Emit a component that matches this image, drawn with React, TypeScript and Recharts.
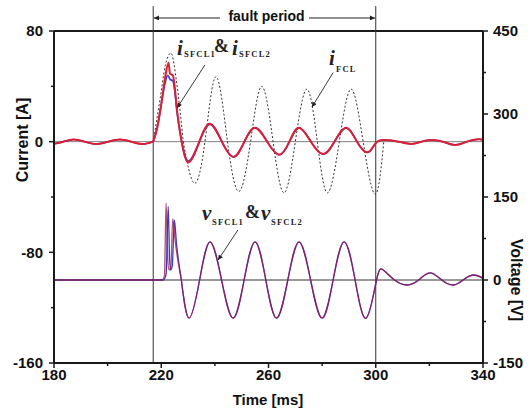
import React from "react";
import { ComposedChart, Line, XAxis, YAxis, ReferenceLine } from "recharts";

// fault window [ms]
const FAULT_START = 217;
const FAULT_END = 300;

const X_TICKS = [180, 200, 220, 240, 260, 280, 300, 320, 340];
const I_TICKS = [-160, -120, -80, -40, 0, 40, 80];
const V_TICKS = [-150, -75, 0, 75, 150, 225, 300, 375, 450];

// i_SFCL1 [A] (red)
const iSfcl1 = [
  { t: 180, v: -1.5 }, { t: 183.5, v: 0 }, { t: 187.3, v: 1.6 }, { t: 191.4, v: 0 },
  { t: 195.8, v: -1.7 }, { t: 200.2, v: 0 }, { t: 204.6, v: 1.6 }, { t: 208.8, v: 0 },
  { t: 213, v: -1.7 }, { t: 217, v: 0 }, { t: 218.5, v: 10 }, { t: 220, v: 27 },
  { t: 221.5, v: 47 }, { t: 222.7, v: 57 }, { t: 223.3, v: 49 }, { t: 224.3, v: 48 },
  { t: 225, v: 40 }, { t: 225.8, v: 24 }, { t: 227.6, v: 0 }, { t: 230.2, v: -15 },
  { t: 234.2, v: 0 }, { t: 238.2, v: 13 }, { t: 242.6, v: 0 }, { t: 247, v: -11 },
  { t: 251, v: 0 }, { t: 255, v: 10 }, { t: 259.5, v: 0 }, { t: 264, v: -9.5 },
  { t: 267.8, v: 0 }, { t: 271.4, v: 10 }, { t: 275.8, v: 0 }, { t: 280.4, v: -9 },
  { t: 284.6, v: 0 }, { t: 289, v: 10 }, { t: 293, v: 0 }, { t: 297, v: -7.7 },
  { t: 300, v: -1 }, { t: 303.4, v: 1.2 }, { t: 308.5, v: 0 }, { t: 313.2, v: -1.7 },
  { t: 317, v: 0 }, { t: 320.7, v: 1.2 }, { t: 325, v: 0 }, { t: 329.6, v: -2.4 },
  { t: 334, v: 0 }, { t: 338.3, v: 1.7 }, { t: 340, v: 1.2 },
];

// i_SFCL2 [A] (blue)
const iSfcl2 = [
  { t: 180, v: -1.5 }, { t: 183.5, v: 0 }, { t: 187.3, v: 1.6 }, { t: 191.4, v: 0 },
  { t: 195.8, v: -1.7 }, { t: 200.2, v: 0 }, { t: 204.6, v: 1.6 }, { t: 208.8, v: 0 },
  { t: 213, v: -1.7 }, { t: 217, v: 0 }, { t: 218.5, v: 10 }, { t: 220, v: 27 },
  { t: 221.5, v: 43 }, { t: 222.4, v: 48 }, { t: 223.3, v: 45 }, { t: 224.3, v: 44 },
  { t: 225, v: 37 }, { t: 225.8, v: 23 }, { t: 227.6, v: 0 }, { t: 230.2, v: -14 },
  { t: 234.2, v: 0 }, { t: 238.2, v: 12.5 }, { t: 242.6, v: 0 }, { t: 247, v: -11 },
  { t: 251, v: 0 }, { t: 255, v: 10 }, { t: 259.5, v: 0 }, { t: 264, v: -9.5 },
  { t: 267.8, v: 0 }, { t: 271.4, v: 10 }, { t: 275.8, v: 0 }, { t: 280.4, v: -9 },
  { t: 284.6, v: 0 }, { t: 289, v: 10 }, { t: 293, v: 0 }, { t: 297, v: -7.7 },
  { t: 300, v: -1 }, { t: 303.4, v: 1.2 }, { t: 308.5, v: 0 }, { t: 313.2, v: -1.7 },
  { t: 317, v: 0 }, { t: 320.7, v: 1.2 }, { t: 325, v: 0 }, { t: 329.6, v: -2.4 },
  { t: 334, v: 0 }, { t: 338.3, v: 1.7 }, { t: 340, v: 1.2 },
];

// i_FCL [A] (dotted)
const iFcl = [
  { t: 217, v: 0 }, { t: 219.5, v: 30 }, { t: 221.5, v: 55 }, { t: 223.6, v: 64 },
  { t: 225.8, v: 42 }, { t: 228.2, v: 0 }, { t: 232.3, v: -30 }, { t: 236.3, v: 0 },
  { t: 240.4, v: 47 }, { t: 244.7, v: 0 }, { t: 249, v: -36 }, { t: 253.3, v: 0 },
  { t: 257.5, v: 40 }, { t: 261.7, v: 0 }, { t: 265.8, v: -37 }, { t: 270, v: 0 },
  { t: 274.3, v: 38 }, { t: 278.2, v: 0 }, { t: 282, v: -37 }, { t: 286.4, v: 0 },
  { t: 290.8, v: 38 }, { t: 295.3, v: 0 }, { t: 299.8, v: -38 }, { t: 303, v: 0 },
];

// v_SFCL1 [V] (red)
const vSfcl1 = [
  { t: 180, v: 0 }, { t: 220.3, v: 0 }, { t: 221.2, v: 8 }, { t: 221.8, v: 139 },
  { t: 222.4, v: 40 }, { t: 222.9, v: 18 }, { t: 223.6, v: 25 }, { t: 224.3, v: 111 },
  { t: 225.2, v: 70 }, { t: 227.5, v: 0 }, { t: 230.4, v: -69 }, { t: 234.3, v: 0 },
  { t: 238.2, v: 69 }, { t: 242.5, v: 0 }, { t: 246.8, v: -69 }, { t: 250.9, v: 0 },
  { t: 255, v: 69 }, { t: 259, v: 0 }, { t: 263, v: -69 }, { t: 267.2, v: 0 },
  { t: 271.4, v: 69 }, { t: 275.7, v: 0 }, { t: 280, v: -69 }, { t: 284.1, v: 0 },
  { t: 288.2, v: 69 }, { t: 292.3, v: 0 }, { t: 296.4, v: -69 }, { t: 300.3, v: 0 },
  { t: 302.8, v: 18 }, { t: 307, v: 0 }, { t: 311.7, v: -9 }, { t: 316, v: 0 },
  { t: 320.3, v: 13 }, { t: 324.6, v: 0 }, { t: 329, v: -9 }, { t: 332.6, v: 0 },
  { t: 336.3, v: 9 }, { t: 340, v: 3 },
];

// v_SFCL2 [V] (blue)
const vSfcl2 = [
  { t: 180, v: 0 }, { t: 220.8, v: 0 }, { t: 221.8, v: 10 }, { t: 222.6, v: 133 },
  { t: 223.1, v: 40 }, { t: 223.5, v: 18 }, { t: 224.1, v: 25 }, { t: 224.9, v: 108 },
  { t: 225.7, v: 65 }, { t: 227.5, v: 0 }, { t: 230.4, v: -69 }, { t: 234.3, v: 0 },
  { t: 238.2, v: 69 }, { t: 242.5, v: 0 }, { t: 246.8, v: -69 }, { t: 250.9, v: 0 },
  { t: 255, v: 69 }, { t: 259, v: 0 }, { t: 263, v: -69 }, { t: 267.2, v: 0 },
  { t: 271.4, v: 69 }, { t: 275.7, v: 0 }, { t: 280, v: -69 }, { t: 284.1, v: 0 },
  { t: 288.2, v: 69 }, { t: 292.3, v: 0 }, { t: 296.4, v: -69 }, { t: 300.3, v: 0 },
  { t: 302.8, v: 18 }, { t: 307, v: 0 }, { t: 311.7, v: -9 }, { t: 316, v: 0 },
  { t: 320.3, v: 13 }, { t: 324.6, v: 0 }, { t: 329, v: -9 }, { t: 332.6, v: 0 },
  { t: 336.3, v: 9 }, { t: 340, v: 3 },
];

const AX = "#1a1a1a";
const SANS = "'Liberation Sans', Arial, sans-serif";
const SERIF = "'Liberation Serif', 'Times New Roman', serif";
const tickFont = { fontFamily: SANS, fontWeight: 700, fontSize: 15, fill: "#111" };

const part = (d: { t: number; v: number }[], a: number, b: number) => d.filter((p) => p.t >= a && p.t <= b);

const LeftTick = ({ x, y, payload }: any) => {
  const major = payload.value % 80 === 0;
  return (
    <g>
      <line x1={x} x2={x - (major ? 5 : 3)} y1={y} y2={y} stroke={AX} strokeWidth={1.5} />
      {major && <text x={x - 11} y={y} dy="0.36em" textAnchor="end" style={tickFont}>{payload.value}</text>}
    </g>
  );
};

const RightTick = ({ x, y, payload }: any) => {
  const major = payload.value % 150 === 0;
  return (
    <g>
      <line x1={x} x2={x + (major ? 5 : 3)} y1={y} y2={y} stroke={AX} strokeWidth={1.5} />
      {major && <text x={x + 10} y={y} dy="0.36em" textAnchor="start" style={tickFont}>{payload.value}</text>}
    </g>
  );
};

const BottomTick = ({ x, y, payload }: any) => {
  const major = (payload.value - 180) % 40 === 0;
  return (
    <g>
      <line x1={x} x2={x} y1={y} y2={y + (major ? 5 : 3)} stroke={AX} strokeWidth={1.5} />
      {major && <text x={x} y={y + 17} textAnchor="middle" style={tickFont}>{payload.value}</text>}
    </g>
  );
};

const sub = { fontFamily: SERIF, fontWeight: 700, fontSize: 8.5, letterSpacing: 1.2, fill: "#222" };
const sym = { fontFamily: SERIF, fontWeight: 700, fontStyle: "italic" as const, fontSize: 21, fill: "#222" };
const amp = { fontFamily: SERIF, fontWeight: 700, fontSize: 18, fill: "#222" };

// one series drawn in pieces: natural spline for the sinusoidal stretches,
// monotone for the fault transient so the spikes don't ring
function series(key: string, axis: string, d: { t: number; v: number }[], cuts: number[], stroke: string, extra: any) {
  const pieces = [];
  for (let k = 0; k < cuts.length - 1; k++) {
    const pts = part(d, cuts[k], cuts[k + 1]);
    if (pts.length < 2) continue;
    const transient = k % 2 === 1;
    pieces.push(
      <Line key={`${key}-${k}`} yAxisId={axis} data={pts} dataKey="v"
        type={transient ? "monotone" : "natural"} stroke={stroke} dot={false} activeDot={false}
        isAnimationActive={false} {...extra} />
    );
  }
  return pieces;
}

export default function App() {
  return (
    <div style={{ position: "absolute", left: 0, top: 0, width: 529, height: 412, background: "#fff" }}>
      <svg width={529} height={412} style={{ position: "absolute", left: 0, top: 0, pointerEvents: "none" }}>
        <defs>
          <marker id="ah" viewBox="0 0 10 10" refX="10" refY="5" markerWidth="7" markerHeight="5"
            markerUnits="userSpaceOnUse" orient="auto">
            <path d="M0,0 L10,5 L0,10 z" fill="#222" />
          </marker>
        </defs>
      </svg>
      <ComposedChart width={529} height={412} margin={{ top: 31, right: 0, bottom: 0, left: 0 }}>
        <XAxis type="number" dataKey="t" domain={[180, 340]} ticks={X_TICKS} interval={0}
          allowDataOverflow height={49} tickSize={0} tickMargin={0} tick={BottomTick}
          axisLine={{ stroke: AX, strokeWidth: 2 }} tickLine={false} />
        <YAxis yAxisId="i" domain={[-160, 80]} ticks={I_TICKS} interval={0} allowDataOverflow
          width={54} tickSize={0} tickMargin={0} tick={LeftTick}
          axisLine={{ stroke: AX, strokeWidth: 2 }} tickLine={false} />
        <YAxis yAxisId="v" orientation="right" domain={[-150, 450]} ticks={V_TICKS} interval={0}
          allowDataOverflow width={46} tickSize={0} tickMargin={0} tick={RightTick}
          axisLine={{ stroke: AX, strokeWidth: 2 }} tickLine={false} />

        {/* frame top + zero lines */}
        <ReferenceLine yAxisId="i" y={80} stroke={AX} strokeWidth={2} />
        <ReferenceLine yAxisId="i" y={0} stroke="#808080" strokeWidth={1} />
        <ReferenceLine yAxisId="v" y={0} stroke="#333" strokeWidth={1} />

        {/* fault period markers */}
        <ReferenceLine yAxisId="i" ifOverflow="visible" stroke="#333" strokeWidth={1}
          segment={[{ x: FAULT_START, y: -160 }, { x: FAULT_START, y: 98 }]} />
        <ReferenceLine yAxisId="i" ifOverflow="visible" stroke="#333" strokeWidth={1}
          segment={[{ x: FAULT_END, y: -160 }, { x: FAULT_END, y: 98 }]} />
        <ReferenceLine yAxisId="i" ifOverflow="visible" stroke="#222" strokeWidth={1} markerEnd="url(#ah)"
          segment={[{ x: 241.9, y: 89.4 }, { x: FAULT_START + 0.3, y: 89.4 }]} />
        <ReferenceLine yAxisId="i" ifOverflow="visible" stroke="#222" strokeWidth={1} markerEnd="url(#ah)"
          segment={[{ x: 275.1, y: 89.4 }, { x: FAULT_END - 0.3, y: 89.4 }]} />

        {series("fcl", "i", iFcl, [217, 217, 228.2, 303], "#333", { strokeWidth: 1, strokeDasharray: "2 2" })}
        {series("is2", "i", iSfcl2, [180, 217, 227.6, 340], "#3c3cc8", { strokeWidth: 1.6 })}
        {series("is1", "i", iSfcl1, [180, 217, 227.6, 340], "#dc1e32", { strokeWidth: 2 })}
        {series("vs2", "v", vSfcl2, [180, 180, 227.5, 340], "#3c3cc8", { strokeWidth: 1.3 })}
        {series("vs1", "v", vSfcl1, [180, 180, 227.5, 340], "#9a1446", { strokeWidth: 1.3, strokeOpacity: 0.75 })}

        {/* label arrows */}
        <ReferenceLine yAxisId="i" ifOverflow="visible" stroke="#222" strokeWidth={0.9} markerEnd="url(#ah)"
          segment={[{ x: 236.3, y: 55.5 }, { x: 225.9, y: 24.4 }]} />
        <ReferenceLine yAxisId="i" ifOverflow="visible" stroke="#222" strokeWidth={0.9} markerEnd="url(#ah)"
          segment={[{ x: 284.1, y: 49.9 }, { x: 276.2, y: 25 }]} />
        <ReferenceLine yAxisId="v" ifOverflow="visible" stroke="#222" strokeWidth={0.9} markerEnd="url(#ah)"
          segment={[{ x: 248.6, y: 90.4 }, { x: 241.2, y: 36.2 }]} />
      </ComposedChart>

      <svg width={529} height={412} style={{ position: "absolute", left: 0, top: 0, pointerEvents: "none" }}>
        <text x={266.5} y={21} textAnchor="middle" style={{ fontFamily: SANS, fontWeight: 700, fontSize: 14, fill: "#111" }}>
          fault period
        </text>
        <text transform="translate(22,140) rotate(-90)" textAnchor="middle" dy="0.35em"
          style={{ fontFamily: SANS, fontWeight: 700, fontSize: 16, fill: "#111" }}>Current [A]</text>
        <text transform="translate(517,280) rotate(90)" textAnchor="middle" dy="0.35em"
          style={{ fontFamily: SANS, fontWeight: 700, fontSize: 16, fill: "#111" }}>Voltage [V]</text>
        <text x={268} y={405} textAnchor="middle"
          style={{ fontFamily: SANS, fontWeight: 700, fontSize: 15, fill: "#111" }}>Time [ms]</text>

        <text x={177} y={55} style={sym}>i</text>
        <text x={184} y={57} style={sub}>SFCL1</text>
        <text x={214} y={52} style={amp}>&amp;</text>
        <text x={232} y={55} style={sym}>i</text>
        <text x={239} y={57} style={sub}>SFCL2</text>

        <text x={329} y={65} style={sym}>i</text>
        <text x={336} y={72} style={sub}>FCL</text>

        <text x={202} y={220} style={sym}>v</text>
        <text x={212} y={225} style={sub}>SFCL1</text>
        <text x={245} y={218} style={amp}>&amp;</text>
        <text x={261} y={220} style={sym}>v</text>
        <text x={271} y={225} style={sub}>SFCL2</text>
      </svg>
    </div>
  );
}
